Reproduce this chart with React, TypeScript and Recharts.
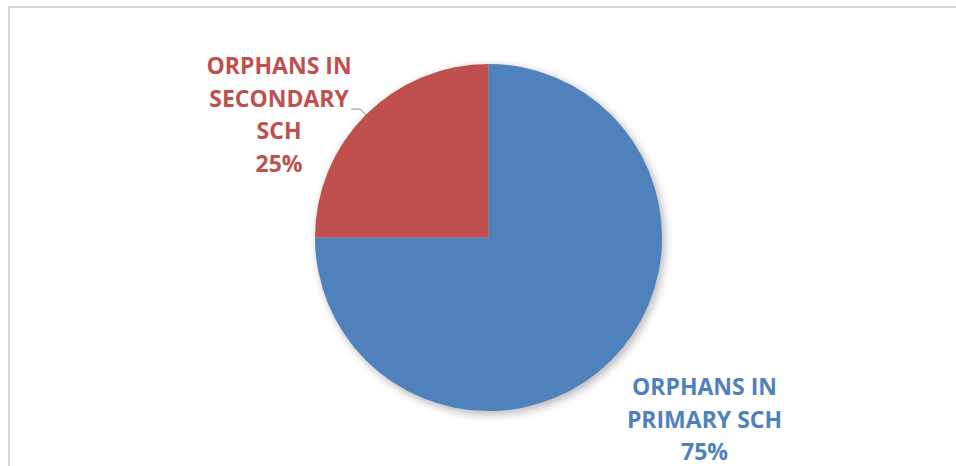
import { PieChart, Pie, Cell } from 'recharts';

const CATEGORIES = ['ORPHANS IN PRIMARY SCH', 'ORPHANS IN SECONDARY SCH'];
const VALUES = [75, 25];
const COLORS = ['#4F81BD', '#C0504D'];

// label block anchor (centre x, first baseline) in units of the pie radius
const LABEL_ANCHORS = [
  { dx: 1.245, dy: 0.908 },
  { dx: -1.207, dy: -0.942 },
];

const LINE_HEIGHT = 32.5;
const FONT = '"Open Sans", sans-serif';

const data = CATEGORIES.map((name, i) => ({ name, value: VALUES[i] }));

// greedy wrap, like the Office data-label box
const wrap = (text: string, max: number) => {
  const lines: string[] = [];
  let cur = '';
  text.split(' ').forEach((w) => {
    const next = cur ? cur + ' ' + w : w;
    if (next.length > max && cur) {
      lines.push(cur);
      cur = w;
    } else {
      cur = next;
    }
  });
  if (cur) lines.push(cur);
  return lines;
};

const RADIAN = Math.PI / 180;

const renderLabel = (props: any) => {
  const { cx, cy, midAngle, outerRadius, index, percent, name } = props;
  const anchor = LABEL_ANCHORS[index];
  const x = cx + anchor.dx * outerRadius;
  const y0 = cy + anchor.dy * outerRadius;
  const lines = [...wrap(name, 11), `${Math.round(percent * 100)}%`];

  // leader line only for the small slice whose label sits off to the side
  let leader = null;
  if (index === 1) {
    const cos = Math.cos(-midAngle * RADIAN);
    const sin = Math.sin(-midAngle * RADIAN);
    const ex = cx + outerRadius * cos;
    const ey = cy + outerRadius * sin;
    const mx = cx + (outerRadius + 8) * cos;
    const my = cy + (outerRadius + 8) * sin;
    leader = (
      <polyline
        points={`${ex},${ey} ${mx},${my} ${mx - 9},${my}`}
        fill="none"
        stroke="#a6a6a6"
        strokeWidth={1.2}
      />
    );
  }

  return (
    <g key={`label-${index}`}>
      {leader}
      <text
        x={x}
        y={y0}
        textAnchor="middle"
        fill={COLORS[index]}
        fontFamily={FONT}
        fontWeight={700}
        fontSize={23}
      >
        {lines.map((l, i) => (
          <tspan key={i} x={x} y={y0 + i * LINE_HEIGHT}>
            {l}
          </tspan>
        ))}
      </text>
    </g>
  );
};

const App = () => {
  return (
    <div style={{ position: 'absolute', left: 8, top: 6 }}>
      <svg width={948} height={2} style={{ display: 'block' }}>
        <line x1={0} y1={1} x2={948} y2={1} stroke="#d4d4d4" strokeWidth={2} />
      </svg>
      <div
        style={{
          width: 948,
          height: 458,
          borderLeft: '2px solid #d4d4d4',
          boxSizing: 'border-box',
          background: '#fff',
        }}
      >
        <PieChart width={946} height={458} margin={{ top: 0, right: 0, bottom: 0, left: 0 }}>
          <defs>
            <filter id="pieShadow" x="-20%" y="-20%" width="140%" height="140%">
              <feGaussianBlur stdDeviation={4} />
            </filter>
          </defs>
          {/* soft shadow underneath */}
          <Pie
            data={data}
            dataKey="value"
            cx={481}
            cy={232.5}
            outerRadius={174}
            startAngle={90}
            endAngle={-270}
            stroke="none"
            label={false}
            labelLine={false}
            isAnimationActive={false}
          >
            {data.map((_, i) => (
              <Cell key={i} fill="#000" fillOpacity={0.28} filter="url(#pieShadow)" />
            ))}
          </Pie>
          <Pie
            data={data}
            dataKey="value"
            cx={478.5}
            cy={229.5}
            outerRadius={173.5}
            startAngle={90}
            endAngle={-270}
            stroke="none"
            label={renderLabel}
            labelLine={false}
            isAnimationActive={false}
          >
            {data.map((_, i) => (
              <Cell key={i} fill={COLORS[i]} />
            ))}
          </Pie>
        </PieChart>
      </div>
    </div>
  );
};

export default App;
